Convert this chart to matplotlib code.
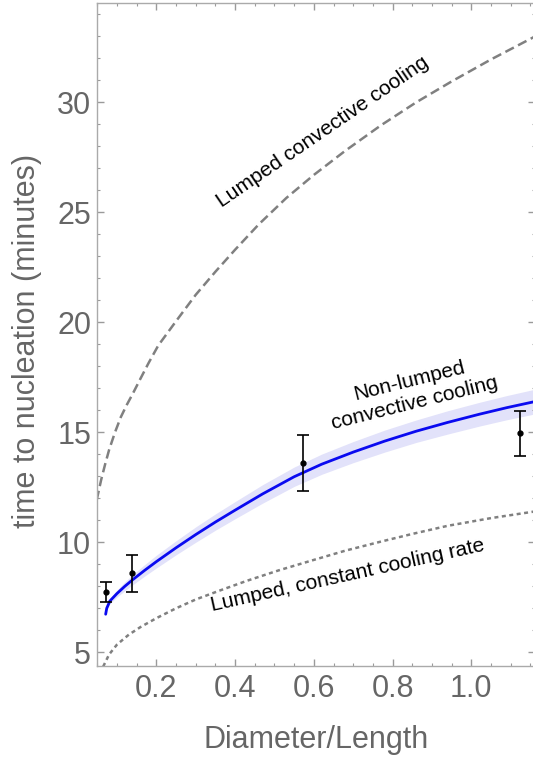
import matplotlib
matplotlib.use("Agg")
import matplotlib.pyplot as plt
from matplotlib.ticker import FixedLocator, MultipleLocator

plt.rcParams['font.family'] = ['Liberation Sans', 'DejaVu Sans']

# non-lumped model (blue line) and its band half-width
model_x = [0.0713, 0.074, 0.082, 0.10, 0.12, 0.14, 0.17, 0.20, 0.25, 0.30, 0.35,
           0.40, 0.47, 0.55, 0.62, 0.70, 0.78, 0.86, 0.94, 1.02, 1.09, 1.157]
model_y = [6.73, 7.00, 7.33, 7.67, 8.00, 8.30, 8.72, 9.12, 9.75, 10.35, 10.92,
           11.46, 12.20, 12.98, 13.55, 14.10, 14.60, 15.05, 15.45, 15.82, 16.12, 16.38]
model_err = [0.05, 0.08, 0.12, 0.16, 0.20, 0.23, 0.26, 0.29, 0.32, 0.35, 0.37,
             0.39, 0.42, 0.44, 0.46, 0.48, 0.50, 0.51, 0.53, 0.54, 0.55, 0.56]

# lumped convective cooling (dashed)
conv_x = [0.0485, 0.06, 0.07, 0.08, 0.095, 0.11, 0.125, 0.14, 0.16, 0.18, 0.205, 0.25,
          0.30, 0.35, 0.40, 0.46, 0.53, 0.60, 0.68, 0.77, 0.86, 0.95, 1.05, 1.157]
conv_y = [11.92, 12.85, 13.55, 14.2, 15.0, 15.7, 16.25, 16.75, 17.45, 18.14, 18.95, 20.05,
          21.25, 22.3, 23.3, 24.45, 25.65, 26.7, 27.8, 28.95, 30.0, 30.95, 31.95, 32.95]

# lumped, constant cooling rate (dotted)
rate_x = [0.065, 0.08, 0.10, 0.13, 0.16, 0.20, 0.25, 0.30, 0.36, 0.43, 0.51, 0.60,
          0.68, 0.77, 0.85, 0.94, 1.05, 1.157]
rate_y = [4.35, 4.9, 5.35, 5.8, 6.15, 6.55, 7.0, 7.4, 7.8, 8.25, 8.72, 9.2,
          9.62, 10.03, 10.38, 10.75, 11.1, 11.39]

# measurements
meas_x = [0.0713, 0.139, 0.573, 1.123]
meas_y = [7.73, 8.59, 13.59, 14.95]
meas_err = [0.45, 0.85, 1.27, 1.02]

x_ticks = [0.2, 0.4, 0.6, 0.8, 1.0]
y_ticks = [5, 10, 15, 20, 25, 30]

fig = plt.figure(figsize=(5.33, 7.57), dpi=100)
ax = fig.add_axes([0.1814, 0.1206, 0.8223, 0.8750])

lo = [m - e for m, e in zip(model_y, model_err)]
hi = [m + e for m, e in zip(model_y, model_err)]
ax.fill_between(model_x, lo, hi, color='#e2e2fa', lw=0)
ax.plot(model_x, model_y, color='#0a0af0', lw=2.0, solid_capstyle='round')
ax.plot(conv_x, conv_y, color='#808080', lw=1.8, dashes=(3.8, 1.9))
ax.plot(rate_x, rate_y, color='#808080', lw=1.8, dashes=(1.6, 1.4))
ax.errorbar(meas_x, meas_y, yerr=meas_err, fmt='o', ms=3.5, color='black',
            elinewidth=1.2, capsize=4, capthick=1.2)

ax.text(0.623, 28.66, "Lumped convective cooling", rotation=34.4, fontsize=15,
        ha='center', va='center', rotation_mode='anchor')
ax.text(0.849, 16.83, "Non-lumped\nconvective cooling", rotation=14, fontsize=15,
        ha='center', va='center', rotation_mode='anchor', multialignment='center')
ax.text(0.687, 8.48, "Lumped, constant cooling rate", rotation=12.5, fontsize=15,
        ha='center', va='center', rotation_mode='anchor')

ax.set_xlim(0.0485, 1.1616)
ax.set_ylim(4.39, 34.5)
ax.xaxis.set_major_locator(FixedLocator(x_ticks))
ax.xaxis.set_minor_locator(MultipleLocator(0.05))
ax.yaxis.set_major_locator(FixedLocator(y_ticks))
ax.yaxis.set_minor_locator(MultipleLocator(1))
ax.tick_params(which='both', direction='in', top=True, right=True,
               color='#9a9a9a', labelcolor='#666666', labelsize=22)
ax.tick_params(which='major', length=5, width=1)
ax.tick_params(which='minor', length=2.5, width=0.8)
ax.tick_params(axis='x', pad=6)
ax.tick_params(axis='y', pad=4)
for s in ax.spines.values():
    s.set_color('#aaaaaa')
    s.set_linewidth(1.0)

ax.set_xlabel("Diameter/Length", fontsize=22, color='#666666', labelpad=15)
fig.text(27 / 533, 1 - 341 / 757, "time to nucleation (minutes)", rotation=90,
         fontsize=22, color='#666666', ha='center', va='center')

fig.savefig("out.png", dpi=100)
